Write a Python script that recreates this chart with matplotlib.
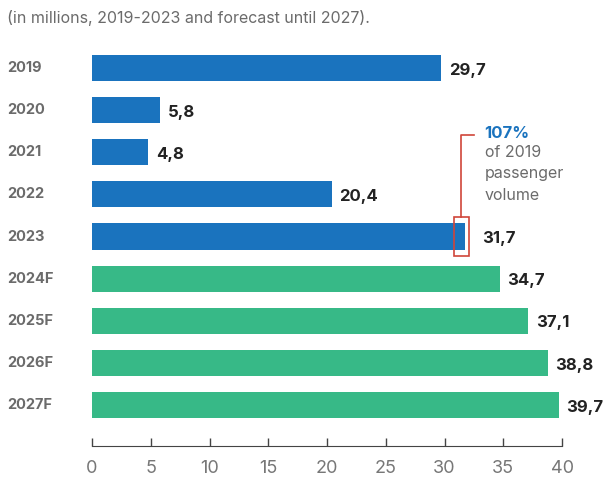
import matplotlib.pyplot as plt
from matplotlib.patches import Rectangle
from matplotlib.transforms import blended_transform_factory

years = ["2019", "2020", "2021", "2022", "2023", "2024F", "2025F", "2026F", "2027F"]
passengers = [29.7, 5.8, 4.8, 20.4, 31.7, 34.7, 37.1, 38.8, 39.7]
is_forecast = [False, False, False, False, False, True, True, True, True]
x_ticks = [0, 5, 10, 15, 20, 25, 30, 35, 40]

BLUE = "#1a73be"
GREEN = "#37b987"
GRAY = "#6b6b6b"
DARK = "#222222"
RED = "#d0453a"

plt.rcParams["font.family"] = ["Inter", "DejaVu Sans"]

fig = plt.figure(figsize=(6.07, 4.8), dpi=100)
ax = fig.add_axes([0.1516, 0.071, 0.7744, 0.840])

colors = [GREEN if f else BLUE for f in is_forecast]
pos = list(range(len(years)))
ax.barh(pos, passengers, height=0.62, color=colors)

for i, v in enumerate(passengers):
    # the 2023 label is pushed past the highlight box
    off = 1.5 if years[i] == "2023" else 0.65
    ax.text(v + off, i + 0.05, f"{v:.1f}".replace(".", ","), va="center", ha="left",
            fontsize=12, fontweight="bold", color=DARK)

# category labels sit at the left edge of the figure
trans = blended_transform_factory(fig.transFigure, ax.transData)
for i, y in enumerate(years):
    ax.text(0.012, i, y, transform=trans, va="center", ha="left", fontsize=10.5,
            fontweight="bold", color=GRAY)

ax.set_ylim(8.97, -0.6)
ax.set_xlim(0, 40)
ax.set_yticks([])
ax.set_xticks(x_ticks)
ax.tick_params(axis="x", length=6, width=1, color="#444444", labelsize=13,
               labelcolor="#777777", pad=10, direction="in")
for side in ["top", "right", "left"]:
    ax.spines[side].set_visible(False)
ax.spines["bottom"].set_color("#444444")

# highlight 2023 vs 2019
ax.add_patch(Rectangle((30.8, 4 - 0.46), 1.25, 0.92, fill=False, edgecolor=RED,
                       linewidth=1.2, clip_on=False))
ax.plot([31.42, 31.42, 32.5], [4 - 0.46, 1.6, 1.6], color=RED, linewidth=1.2,
        clip_on=False)
ax.text(33.4, 1.55, "107%", fontsize=12, fontweight="bold", color=BLUE, va="center")
ax.text(33.4, 1.82, "of 2019\npassenger\nvolume", fontsize=11.5, color=GRAY, va="top",
        linespacing=1.55)

fig.text(0.012, 0.962, "(in millions, 2019-2023 and forecast until 2027).",
         fontsize=11.5, color=GRAY, va="center", ha="left")

fig.savefig("out.png", dpi=100)
